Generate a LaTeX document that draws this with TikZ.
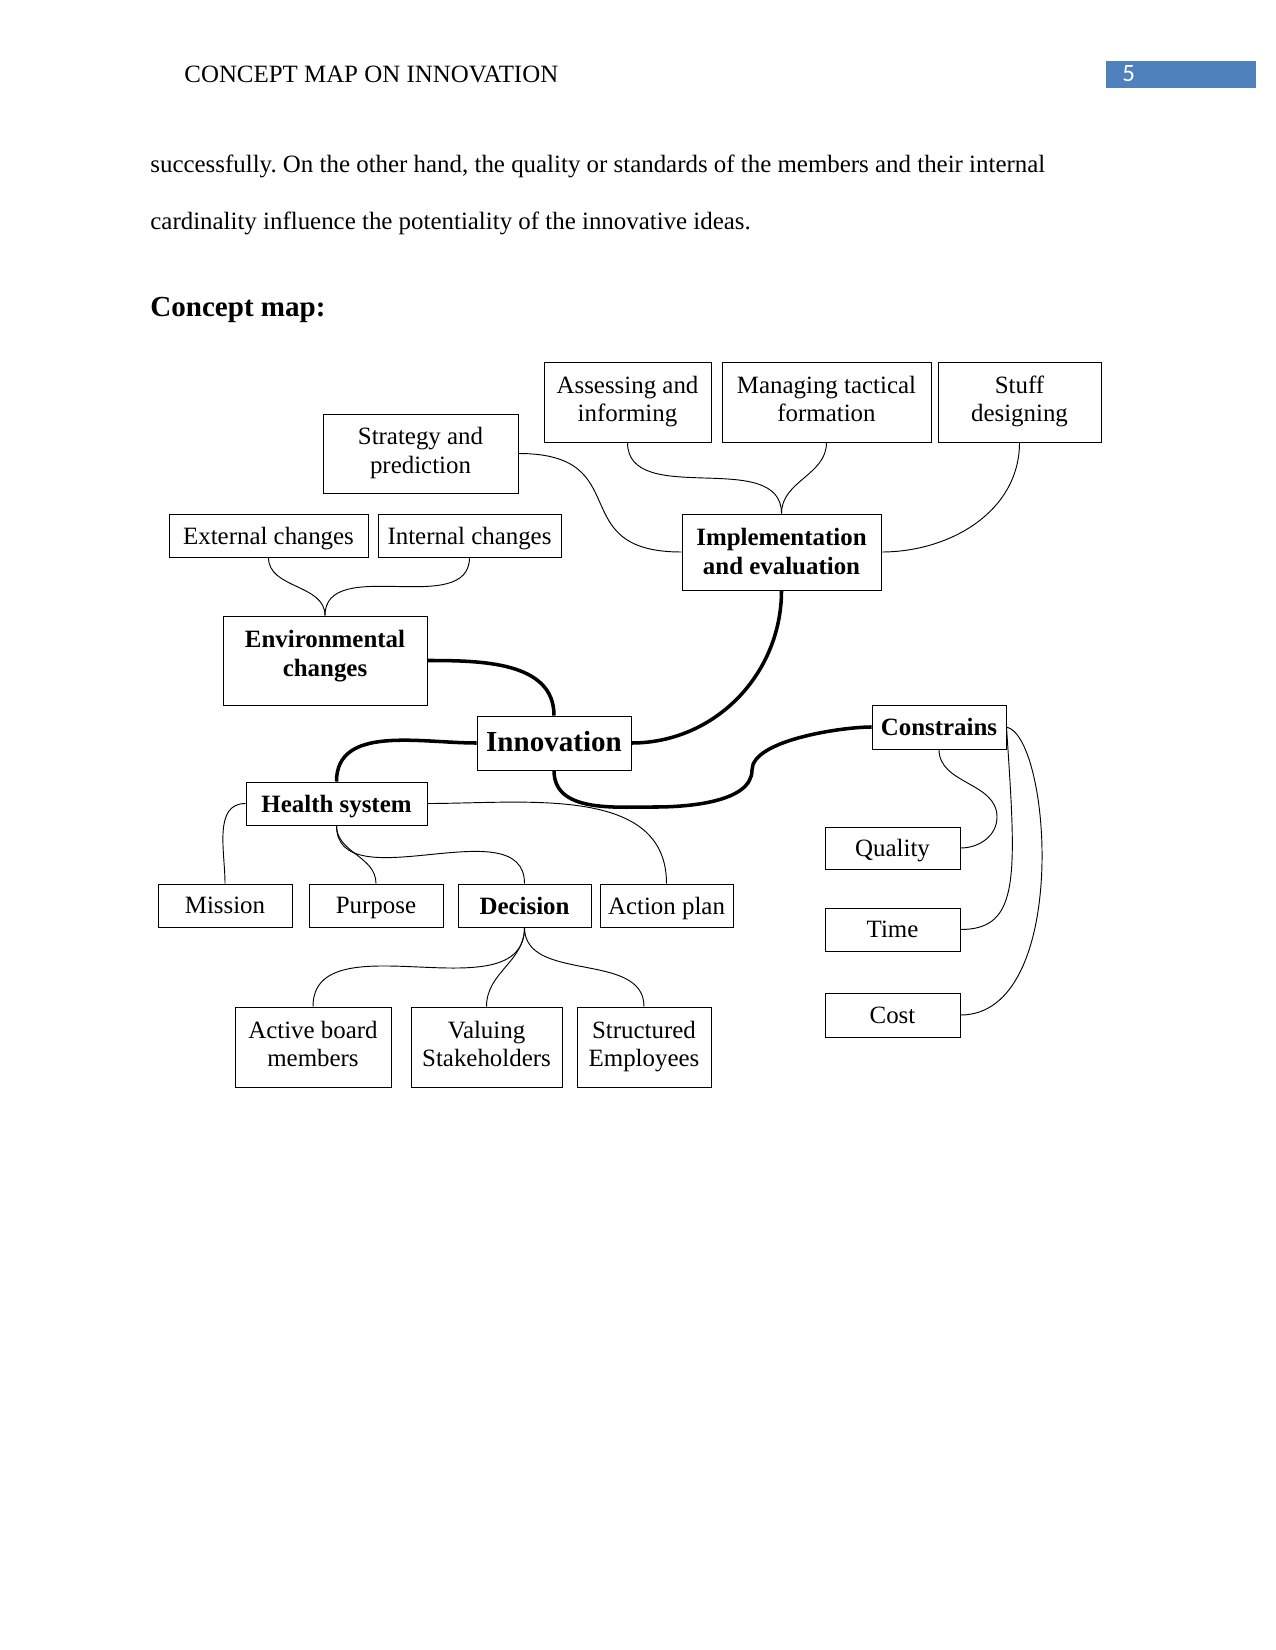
\documentclass[tikz,border=0pt]{standalone}
\usepackage{fontspec}
\setmainfont{Liberation Serif}
\newfontfamily\pagefont{Carlito}
\usepackage{xcolor}
\usepackage{tikz}
\usetikzlibrary{calc}
\definecolor{cmblue}{RGB}{79,129,189}
\definecolor{cmdark}{RGB}{0,0,0}
\newcommand{\pxu}{0.4818pt}
\frenchspacing

\begin{document}
\begin{tikzpicture}[x=\pxu, y=\pxu,
  cbox/.style={draw=cmdark, line width=0.45pt, align=center, inner sep=1pt,
    text depth=0pt, font=\fontsize{12}{13.8}\selectfont},
  cboxb/.style={cbox, font=\fontsize{12}{13.8}\selectfont\bfseries},
  twoline/.style={text depth=3pt},
  boxsize/.style 2 args={minimum width=#1*\pxu, minimum height=#2*\pxu},
  thinlink/.style={draw=cmdark, line width=0.45pt},
  thicklink/.style={draw=cmdark, line width=1.7pt}]
\useasboundingbox (0,0) rectangle (1275,-1650);
\fill[white] (0,0) rectangle (1275,-1650);

% header
\node[cmdark, font=\fontsize{12}{14}\selectfont, anchor=base west, inner sep=0pt]
  (runhead) at (184,-83) {CONCEPT MAP ON INNOVATION};
\fill[cmblue] (1106,-61) rectangle (1256,-88);
\node[white, font=\pagefont\fontsize{12}{14}\selectfont, anchor=base west, inner sep=0pt]
  (pagenum) at (1122,-82) {5};

% body text
\node[cmdark, font=\fontsize{12}{14}\selectfont, anchor=base west, inner sep=0pt]
  (bodyone) at (150,-173)
  {successfully. On the other hand, the quality or standards of the members and their internal};
\node[cmdark, font=\fontsize{12}{14}\selectfont, anchor=base west, inner sep=0pt]
  (bodytwo) at (150,-230)
  {cardinality influence the potentiality of the innovative ideas.};
\node[cmdark, font=\fontsize{14}{16}\selectfont\bfseries, anchor=base west, inner sep=0pt]
  (maphead) at (150,-317) {Concept map:};

% ---- top row ----
\node[cbox, twoline, boxsize={167}{80}] (assess) at (627.5,-402)
  {Assessing and\\informing};
\node[cbox, twoline, boxsize={209}{80}] (manage) at (826.5,-402)
  {Managing tactical\\formation};
\node[cbox, twoline, boxsize={163}{80}] (stuff) at (1019.5,-402)
  {Stuff\\designing};
\node[cbox, twoline, boxsize={195}{79}] (strat) at (420.5,-453.5)
  {Strategy and\\prediction};

% ---- changes ----
\node[cbox, boxsize={199}{43}] (extch) at (268.5,-535.5)
  {External changes};
\node[cbox, boxsize={183}{43}] (intch) at (469.5,-535.5)
  {Internal changes};
\node[cboxb, boxsize={199}{76}, text depth=0.8pt] (impl) at (781.5,-552)
  {Implementation\\and evaluation};
\node[cboxb, boxsize={204}{89}, text depth=7pt] (envch) at (325,-660.5)
  {Environmental\\changes};

% ---- centre ----
\node[cbox, boxsize={154}{54}, text depth=1.5pt,
  font=\fontsize{14}{16}\selectfont\bfseries] (inno) at (554,-743) {Innovation};
\node[cboxb, boxsize={134}{44}] (cons) at (939,-727)
  {Constrains};
\node[cboxb, boxsize={181}{43}] (health) at (336.5,-803.5)
  {Health system};

% ---- health row ----
\node[cbox, boxsize={134}{43}] (mission) at (225,-905.5) {Mission};
\node[cbox, boxsize={134}{43}] (purpose) at (376,-905.5) {Purpose};
\node[cboxb, boxsize={133}{43}] (decision) at (524.5,-905.5) {Decision};
\node[cbox, boxsize={133}{43}] (action) at (666.5,-905.5) {Action plan};

% ---- decision row ----
\node[cbox, twoline, boxsize={156}{80}] (active) at (313,-1047)
  {Active board\\members};
\node[cbox, twoline, boxsize={151}{80}] (valuing) at (486.5,-1047)
  {Valuing\\Stakeholders};
\node[cbox, twoline, boxsize={134}{80}] (struct) at (644,-1047)
  {Structured\\Employees};

% ---- constraints column ----
\node[cbox, boxsize={135}{42}] (quality) at (892.5,-848) {Quality};
\node[cbox, boxsize={135}{43}] (time) at (892.5,-929.5) {Time};
\node[cbox, boxsize={135}{44}] (cost) at (892.5,-1015) {Cost};

% ---- thin links ----
\draw[thinlink] (strat.east) to[out=0, in=180, looseness=1.6] (impl.west);
\draw[thinlink] (assess.south) to[out=-90, in=90] (impl.north);
\draw[thinlink] (manage.south) to[out=-90, in=90] (impl.north);
\draw[thinlink] (stuff.south) to[out=-90, in=0] (impl.east);
\draw[thinlink] (extch.south) to[out=-90, in=90] (envch.north);
\draw[thinlink] (intch.south) to[out=-90, in=90] (envch.north);

\draw[thinlink] (health.west) to[out=180, in=90] (mission.north);
\draw[thinlink] (health.south) to[out=-90, in=90] (purpose.north);
\draw[thinlink] (health.south) to[out=-90, in=90] (decision.north);
\draw[thinlink] (health.east) to[out=0, in=90] (action.north);

\foreach \kid in {active, valuing, struct}
  \draw[thinlink] (decision.south) to[out=-90, in=90] (\kid.north);

\coordinate (qbulge) at (997,-817);
\draw[thinlink] (cons.south) to[out=-90, in=90] (qbulge)
  to[out=-90, in=0] (quality.east);
\draw[thinlink] (cons.east) .. controls +(10,-150) and +(60,0) .. (time.east);
\draw[thinlink] (cons.east) .. controls +(45,-10) and +(110,0) .. (cost.east);

% ---- thick links ----
\coordinate (lowpt) at (655,-807);
\coordinate (riser) at (752,-770);
\draw[thicklink] (envch.east) to[out=0, in=90] (inno.north);
\draw[thicklink] (inno.east) to[out=0, in=-90] (impl.south);
\draw[thicklink] (inno.west) to[out=180, in=90] (health.north);
\draw[thicklink] (inno.south) to[out=-90, in=180] (lowpt)
  to[out=0, in=-90, looseness=0.8] (riser)
  to[out=90, in=180, looseness=0.6] (cons.west);
\end{tikzpicture}
\end{document}
